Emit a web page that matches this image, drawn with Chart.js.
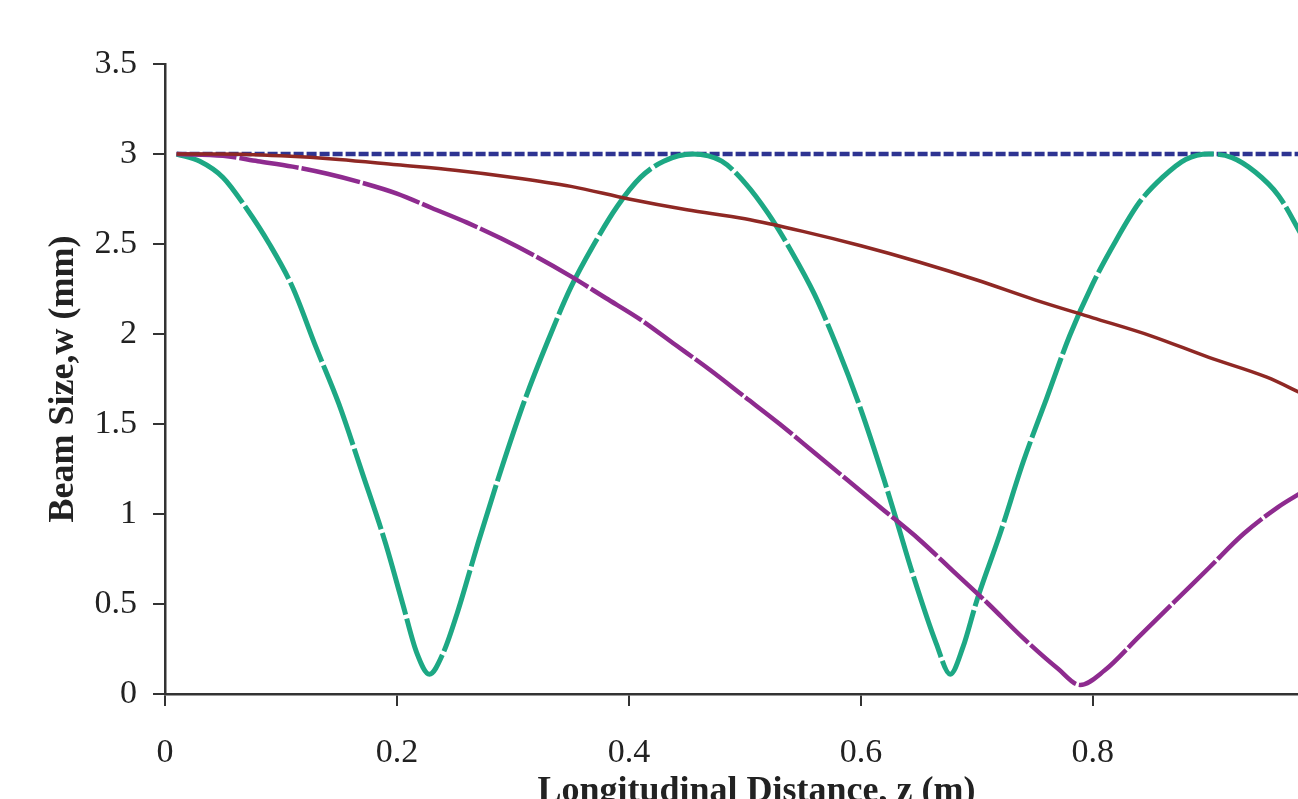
<!DOCTYPE html>
<html>
<head>
<meta charset="utf-8">
<script src="https://cdn.jsdelivr.net/npm/chart.js@4.4.0/dist/chart.umd.min.js"></script>
<style>
  html, body { margin: 0; padding: 0; background: #fff; overflow: hidden; }
  #wrap { position: absolute; left: 0; top: 0; width: 1348px; height: 840px; }
</style>
</head>
<body>
<div id="wrap"><canvas id="beamChart" width="1348" height="840"></canvas></div>
<script>
'use strict';

// longitudinal distance z (m) and beam size w (mm)
const blueZ = [0.01, 0.98];
const blueW = [3.0, 3.0];

const redZ = [0.01, 0.05, 0.10, 0.15, 0.20, 0.25, 0.30, 0.35, 0.40, 0.45, 0.50,
  0.55, 0.60, 0.65, 0.70, 0.75, 0.80, 0.85, 0.90, 0.95, 0.98];
const redW = [3.00, 3.00, 2.99, 2.97, 2.94, 2.91, 2.87, 2.82, 2.75, 2.69, 2.64,
  2.57, 2.49, 2.40, 2.30, 2.19, 2.09, 1.99, 1.87, 1.76, 1.67];

const purpleZ = [0.01, 0.05, 0.08, 0.11, 0.14, 0.17, 0.20, 0.23, 0.26, 0.29, 0.32,
  0.35, 0.38, 0.41, 0.44, 0.47, 0.50, 0.53, 0.56, 0.59, 0.62, 0.65, 0.68, 0.71,
  0.74, 0.77, 0.789, 0.81, 0.84, 0.87, 0.90, 0.93, 0.96, 0.98];
const purpleW = [3.00, 2.99, 2.96, 2.93, 2.89, 2.84, 2.78, 2.70, 2.62, 2.53, 2.43,
  2.32, 2.20, 2.08, 1.94, 1.80, 1.65, 1.50, 1.34, 1.18, 1.02, 0.86, 0.68, 0.50,
  0.31, 0.14, 0.05, 0.13, 0.32, 0.51, 0.70, 0.89, 1.04, 1.12];

const greenZ = [0.01, 0.03, 0.05, 0.07, 0.09, 0.11, 0.13, 0.15, 0.17, 0.19, 0.205,
  0.217, 0.228, 0.240, 0.252, 0.27, 0.29, 0.31, 0.33, 0.35, 0.37, 0.39, 0.41,
  0.43, 0.455, 0.48, 0.50, 0.52, 0.54, 0.56, 0.58, 0.60, 0.62, 0.63, 0.645,
  0.665, 0.677, 0.688, 0.70, 0.72, 0.74, 0.76, 0.78, 0.80, 0.82, 0.84, 0.86,
  0.88, 0.90, 0.92, 0.94, 0.96, 0.98];
const greenW = [3.00, 2.96, 2.87, 2.70, 2.50, 2.26, 1.93, 1.61, 1.23, 0.84, 0.50,
  0.23, 0.11, 0.23, 0.45, 0.84, 1.25, 1.63, 1.96, 2.26, 2.50, 2.71, 2.87,
  2.96, 3.00, 2.96, 2.84, 2.67, 2.46, 2.22, 1.92, 1.58, 1.19, 0.98, 0.66,
  0.28, 0.11, 0.26, 0.52, 0.89, 1.29, 1.64, 1.99, 2.28, 2.52, 2.73, 2.87,
  2.97, 3.00, 2.98, 2.90, 2.77, 2.55];

const xTickMax = 0.8;

function pairs(zs, ws) {
  return zs.map((z, i) => ({ x: z, y: ws[i] }));
}

const axisColor = '#333333';
const textColor = '#222222';
const serif = "'Liberation Serif', 'Times New Roman', serif";

const chartConfig = {
  type: 'line',
  data: {
    datasets: [
      {
        label: 'red',
        data: pairs(redZ, redW),
        borderColor: 'rgb(143, 40, 36)',
        borderWidth: 3.5,
        cubicInterpolationMode: 'monotone'
      },
      {
        label: 'purple',
        data: pairs(purpleZ, purpleW),
        borderColor: 'rgb(142, 43, 143)',
        borderWidth: 4.5,
        borderDash: [60, 3],
        cubicInterpolationMode: 'monotone'
      },
      {
        label: 'green',
        data: pairs(greenZ, greenW),
        borderColor: 'rgb(29, 168, 132)',
        borderWidth: 5,
        borderDash: [85, 4],
        cubicInterpolationMode: 'monotone'
      },
      {
        label: 'blue',
        data: pairs(blueZ, blueW),
        borderColor: 'rgb(46, 52, 146)',
        borderWidth: 4.5,
        borderDash: [10, 3]
      }
    ]
  },
  options: {
    responsive: false,
    animation: false,
    events: [],
    elements: { point: { radius: 0 } },
    layout: { padding: { top: 64, right: 0, left: 0, bottom: 0 } },
    plugins: {
      legend: { display: false },
      tooltip: { enabled: false }
    },
    scales: {
      x: {
        type: 'linear',
        min: 0,
        max: 1.02,
        afterFit: function (scale) { scale.height = 146; },
        afterBuildTicks: function (scale) {
          scale.ticks = scale.ticks.filter(t => t.value <= xTickMax + 1e-9);
        },
        border: { display: true, color: axisColor, width: 2.5 },
        grid: { drawOnChartArea: false, drawTicks: true, tickLength: 12, color: axisColor, lineWidth: 2 },
        ticks: {
          stepSize: 0.2,
          includeBounds: false,
          padding: 27,
          color: textColor,
          font: { family: serif, size: 34 },
          maxRotation: 0
        },
        title: {
          display: true,
          text: 'Longitudinal Distance, z (m)',
          color: textColor,
          font: { family: serif, size: 36, weight: 'bold' },
          padding: { top: 0, bottom: 27 }
        }
      },
      y: {
        min: 0,
        max: 3.5,
        afterFit: function (scale) { scale.width = 165; },
        border: { display: true, color: axisColor, width: 2.5 },
        grid: { drawOnChartArea: false, drawTicks: true, tickLength: 12, color: axisColor, lineWidth: 2 },
        ticks: {
          stepSize: 0.5,
          padding: 16,
          color: textColor,
          font: { family: serif, size: 34 },
          callback: v => String(v)
        },
        title: {
          display: true,
          text: 'Beam Size,w (mm)',
          color: textColor,
          font: { family: serif, size: 36, weight: 'bold' },
          padding: { top: 42, bottom: 0 }
        }
      }
    }
  }
};

const ctx = document.getElementById('beamChart').getContext('2d');
const beamChart = new Chart(ctx, chartConfig);
</script>
</body>
</html>
